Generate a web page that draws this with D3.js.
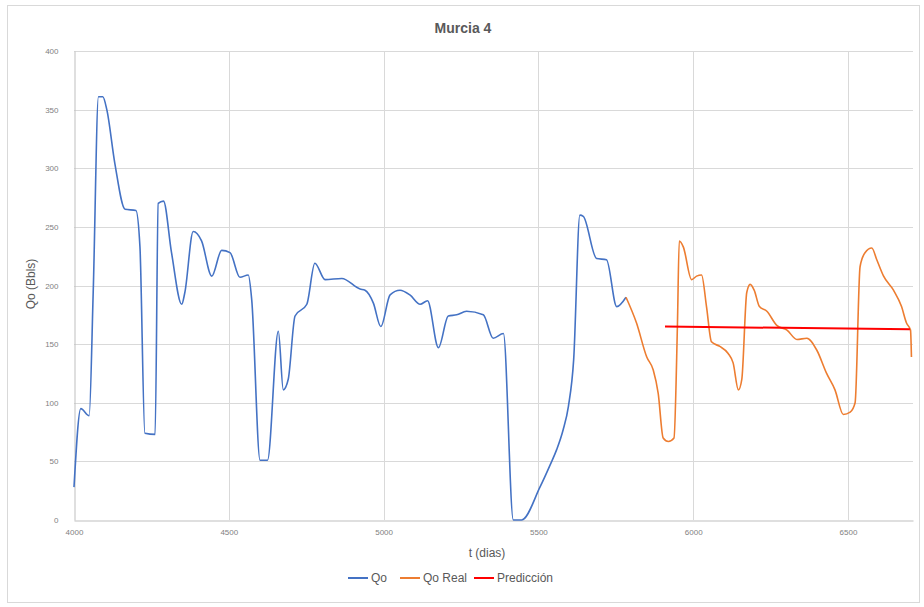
<!DOCTYPE html>
<html><head><meta charset="utf-8">
<script src="https://cdn.jsdelivr.net/npm/d3@7"></script>
<style>body{margin:0;background:#fff;}svg{display:block;font-family:"Liberation Sans",Arial,sans-serif;}</style>
</head><body>
<svg id="c" width="924" height="607"></svg>
<script>
const title = "Murcia 4";
const xTicks = [4000, 4500, 5000, 5500, 6000, 6500];
const yTicks = [0, 50, 100, 150, 200, 250, 300, 350, 400];
const qoT = [4000,4022,4049,4062,4079,4093,4106,4132,4165,4200,4213,4229,4262,4272,4289,4315,4348,4358,4385,4412,4445,4477,4504,4536,4563,4574,4601,4625,4660,4676,4692,4714,4752,4778,4811,4865,4924,4940,4967,4991,5021,5053,5085,5118,5142,5177,5209,5236,5268,5322,5354,5387,5419,5446,5505,5538,5559,5580,5597,5614,5634,5645,5688,5720,5753,5783];
const qoV = [28,95,89,194,361,361,350,304,265,264,233,74,73,270,272,228,184,194,246,238,208,230,228,207,209,188,51,51,161,111,120,174,184,219,205,206,197,196,185,165,192,196,192,184,187,147,174,175,178,175,155,159,0,0,28,47,60,77,97,137,260,259,223,222,182,190];
const realT = [5783,5817,5850,5871,5887,5903,5920,5938,5949,5955,5968,5995,6011,6027,6043,6059,6086,6113,6129,6146,6157,6173,6184,6197,6214,6238,6270,6303,6335,6367,6399,6431,6458,6485,6507,6523,6539,6555,6577,6593,6615,6647,6673,6689,6702,6705];
const realV = [190,168,139,128,108,70,67,70,165,238,233,205,208,209,182,152,148,142,134,111,120,194,201,196,182,178,166,162,154,155,145,125,111,90,92,100,216,228,232,222,208,196,182,168,162,139];
const predT = [5909, 6700];
const predV = [165, 162.7];
const seriesNames = ["Qo", "Qo Real", "Predicción"];
const colors = ["#4472C4", "#ED7D31", "#FF0000"];

const svg = d3.select("#c");
svg.append("rect").attr("x",7.5).attr("y",5.5).attr("width",912).attr("height",597)
  .attr("fill","#fff").attr("stroke","#d9d9d9");

const x = d3.scaleLinear().domain([4000, 6710]).range([74, 913]);
const y = d3.scaleLinear().domain([0, 400]).range([520, 51]);

svg.append("g").selectAll("line").data(yTicks.filter(d=>d>0)).join("line")
  .attr("x1",x(4000)).attr("x2",x(6710)).attr("y1",d=>Math.round(y(d))+0.5).attr("y2",d=>Math.round(y(d))+0.5)
  .attr("stroke","#d9d9d9").attr("stroke-width",1);
svg.append("g").selectAll("line").data(xTicks.filter(d=>d>4000)).join("line")
  .attr("y1",y(0)).attr("y2",y(400)).attr("x1",d=>Math.round(x(d))+0.5).attr("x2",d=>Math.round(x(d))+0.5)
  .attr("stroke","#d9d9d9").attr("stroke-width",1);

const xAxis = d3.axisBottom(x).tickValues(xTicks).tickSize(0).tickPadding(9).tickFormat(d3.format("d"));
const gx = svg.append("g").attr("transform",`translate(0,${Math.round(y(0))+0.5})`).call(xAxis);
gx.select(".domain").attr("stroke","#bfbfbf");
gx.selectAll("text").attr("fill","#7f7f7f").attr("font-size",8);

const yAxis = d3.axisLeft(y).tickValues(yTicks).tickSize(0).tickPadding(16);
const gy = svg.append("g").attr("transform",`translate(${Math.round(x(4000))+0.5},0)`).call(yAxis);
gy.select(".domain").attr("stroke","#bfbfbf");
gy.selectAll("text").attr("fill","#7f7f7f").attr("font-size",8);

const line = d3.line().x(d=>x(d[0])).y(d=>y(d[1])).curve(d3.curveMonotoneX);
const series = [d3.zip(qoT, qoV), d3.zip(realT, realV), d3.zip(predT, predV)];
series.forEach((s,i)=>{
  svg.append("path").datum(s).attr("d",line).attr("fill","none")
    .attr("stroke",colors[i]).attr("stroke-width", i===2?2:1.6).attr("stroke-linejoin","round");
});

svg.append("text").attr("x",463).attr("y",33).attr("text-anchor","middle")
  .attr("font-size",14).attr("font-weight","bold").attr("fill","#595959").text(title);
svg.append("text").attr("transform","translate(35,284) rotate(-90)").attr("text-anchor","middle")
  .attr("font-size",12).attr("fill","#595959").text("Qo (Bbls)");
svg.append("text").attr("x",487).attr("y",557).attr("text-anchor","middle")
  .attr("font-size",12).attr("fill","#595959").text("t (dias)");

const legX = [348, 400, 474];
seriesNames.forEach((n,i)=>{
  const g = svg.append("g").attr("transform",`translate(${legX[i]},582)`);
  g.append("line").attr("x1",0).attr("x2",20).attr("y1",-4).attr("y2",-4).attr("stroke",colors[i]).attr("stroke-width",2);
  g.append("text").attr("x",23).attr("y",0).attr("font-size",12).attr("fill","#595959").text(n);
});
</script>
</body></html>
